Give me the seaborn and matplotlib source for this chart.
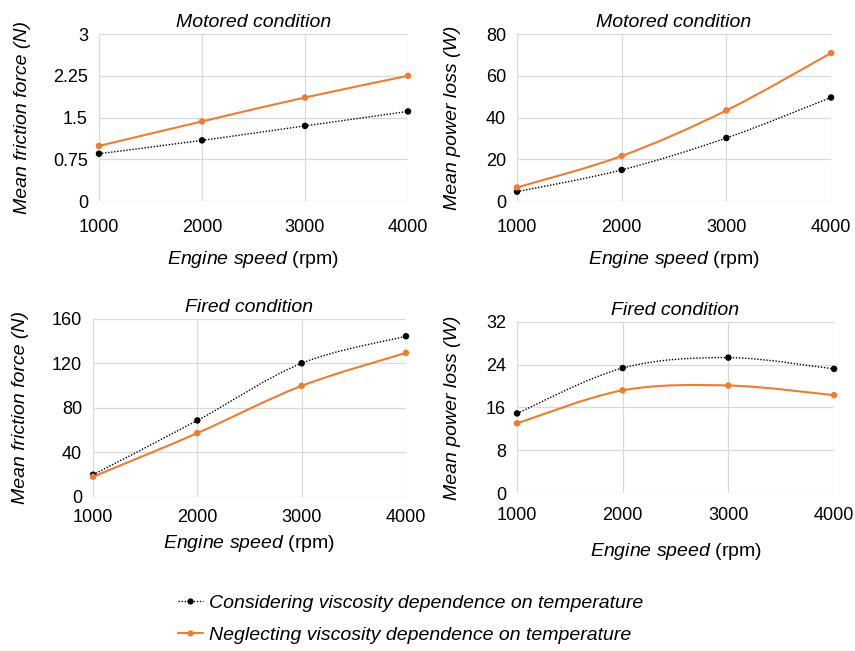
import numpy as np
import pandas as pd
import matplotlib
matplotlib.use("Agg")
import matplotlib.pyplot as plt
from matplotlib.path import Path
from matplotlib.patches import PathPatch
from matplotlib.lines import Line2D
import seaborn as sns

# ---------------- data ----------------
speed = [1000, 2000, 3000, 4000]

motored_force_considering = [0.85, 1.09, 1.35, 1.61]
motored_force_neglecting = [0.99, 1.43, 1.86, 2.25]

motored_power_considering = [4.5, 14.9, 30.2, 49.6]
motored_power_neglecting = [6.5, 21.6, 43.4, 70.9]

fired_force_considering = [20.0, 68.8, 120.2, 144.5]
fired_force_neglecting = [18.2, 57.4, 99.9, 129.5]

fired_power_considering = [14.9, 23.35, 25.3, 23.2]
fired_power_neglecting = [13.05, 19.2, 20.1, 18.3]

series_names = ["Considering viscosity dependence on temperature",
                "Neglecting viscosity dependence on temperature"]

titles = ["Motored condition", "Motored condition", "Fired condition", "Fired condition"]
ylabels = ["Mean friction force (N)", "Mean power loss (W)",
           "Mean friction force (N)", "Mean power loss (W)"]
yticks_list = [[0, 0.75, 1.5, 2.25, 3], [0, 20, 40, 60, 80],
               [0, 40, 80, 120, 160], [0, 8, 16, 24, 32]]
ytick_labels = [["0", "0.75", "1.5", "2.25", "3"], ["0", "20", "40", "60", "80"],
                ["0", "40", "80", "120", "160"], ["0", "8", "16", "24", "32"]]
xticks = [1000, 2000, 3000, 4000]

# ---------------- style ----------------
sns.set_theme(style="white")
plt.rcParams["font.family"] = ["Liberation Sans", "DejaVu Sans"]
plt.rcParams["mathtext.fontset"] = "custom"
plt.rcParams["mathtext.rm"] = "Liberation Sans"
plt.rcParams["mathtext.it"] = "Liberation Sans:italic"

BLACK = "#000000"
ORANGE = "#ED7D31"
GRID = "#D9D9D9"

fig = plt.figure(figsize=(8.55, 6.51), dpi=100)

positions = [
    [0.1158, 0.6912, 0.3614, 0.2565],
    [0.6047, 0.6912, 0.3673, 0.2565],
    [0.1088, 0.2366, 0.3660, 0.2734],
    [0.6047, 0.2422, 0.3708, 0.2637],
]
xtick_pads = [13, 13, 9, 10]
xlabel_pads = [9, 9, 5, 12]
ylabel_pads = [16, 18, 16, 18]

data_sets = [
    (motored_force_considering, motored_force_neglecting),
    (motored_power_considering, motored_power_neglecting),
    (fired_force_considering, fired_force_neglecting),
    (fired_power_considering, fired_power_neglecting),
]


def smooth_path(xs, ys):
    """Excel-like smoothed line as cubic Bezier segments through the data points."""
    pts = np.column_stack([xs, ys]).astype(float)
    n = len(pts)
    verts = [pts[0]]
    codes = [Path.MOVETO]
    for i in range(n - 1):
        p0 = pts[i - 1] if i > 0 else pts[i]
        p1 = pts[i]
        p2 = pts[i + 1]
        p3 = pts[i + 2] if i + 2 < n else pts[i + 1]
        c1 = p1 + (p2 - p0) / 6.0
        c2 = p2 - (p3 - p1) / 6.0
        verts += [c1, c2, p2]
        codes += [Path.CURVE4] * 3
    return Path(verts, codes)


for k in range(4):
    ax = fig.add_axes(positions[k])
    cons, negl = data_sets[k]
    df = pd.DataFrame({
        "speed": speed * 2,
        "value": list(cons) + list(negl),
        "series": [series_names[0]] * 4 + [series_names[1]] * 4,
    })
    # smoothed connecting lines (data coordinates)
    ax.add_patch(PathPatch(smooth_path(speed, cons), fill=False, edgecolor=BLACK,
                           lw=1.0, linestyle=(0, (1, 1.2)), zorder=3))
    ax.add_patch(PathPatch(smooth_path(speed, negl), fill=False, edgecolor=ORANGE,
                           lw=1.5, zorder=3))
    # markers
    sns.scatterplot(data=df, x="speed", y="value", hue="series",
                    palette={series_names[0]: BLACK, series_names[1]: ORANGE},
                    s=22, edgecolor="none", legend=False, ax=ax, zorder=4,
                    clip_on=False)

    ax.set_xlim(1000, 4000)
    ax.set_ylim(yticks_list[k][0], yticks_list[k][-1])
    ax.set_xticks(xticks)
    ax.set_xticklabels([str(v) for v in xticks])
    ax.set_yticks(yticks_list[k])
    ax.set_yticklabels(ytick_labels[k])
    ax.tick_params(axis="both", labelsize=13, colors="#000000", length=0)
    ax.tick_params(axis="x", pad=xtick_pads[k])
    ax.tick_params(axis="y", pad=8)
    ax.grid(True, color=GRID, lw=0.9)
    ax.set_axisbelow(True)
    for sp in ax.spines.values():
        sp.set_visible(False)
    ax.set_title(titles[k], fontsize=14, style="italic", pad=5, color="#000000")
    ax.set_ylabel(ylabels[k], fontsize=14, style="italic",
                  labelpad=ylabel_pads[k], color="#000000")
    ax.set_xlabel(r"$\mathit{Engine\ speed}$ (rpm)", fontsize=14,
                  labelpad=xlabel_pads[k], color="#000000")

# legend
handles = [
    Line2D([], [], color=BLACK, lw=1.0, linestyle=(0, (1, 1.2)), marker="o",
           markersize=4.5, markeredgewidth=0),
    Line2D([], [], color=ORANGE, lw=1.5, marker="o", markersize=4.5,
           markeredgewidth=0),
]
fig.legend(handles, series_names, loc="center left",
           bbox_to_anchor=(0.208, 0.049), bbox_transform=fig.transFigure,
           frameon=False, prop={"style": "italic", "size": 14},
           handlelength=1.3, handletextpad=0.3, labelspacing=0.75,
           borderpad=0, borderaxespad=0, labelcolor="#000000")

fig.savefig("out.png", dpi=100, facecolor="white")
